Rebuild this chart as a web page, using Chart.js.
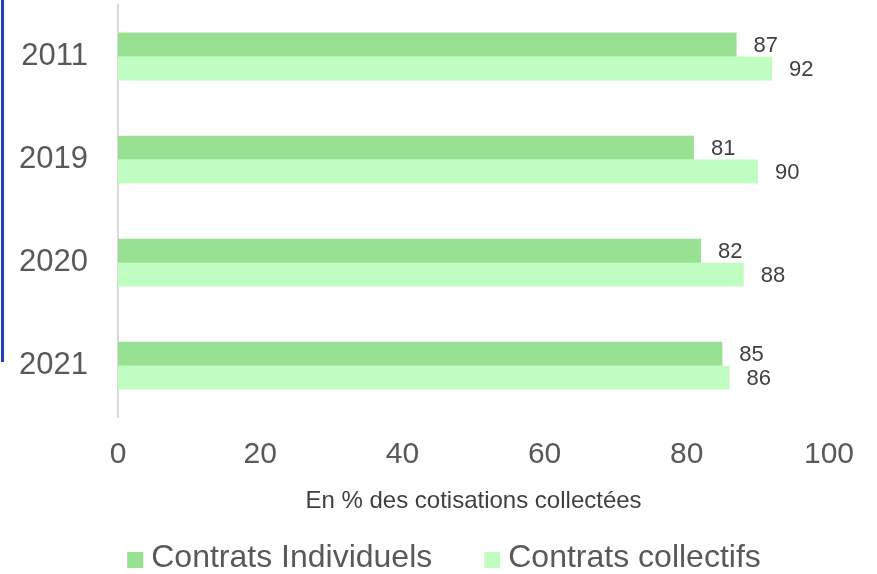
<!DOCTYPE html>
<html><head><meta charset="utf-8">
<script src="https://cdn.jsdelivr.net/npm/chart.js@4/dist/chart.umd.min.js"></script>
<style>
html,body{margin:0;padding:0;background:#fff;}
#wrap{position:relative;width:877px;height:574px;}
#edge{position:absolute;left:1px;top:0;width:3px;height:362px;background:#1f3fbf;}
</style></head>
<body><div id="wrap"><div id="edge"></div><canvas id="c" width="877" height="574"></canvas></div>
<script>
const categories = ["2011", "2019", "2020", "2021"];
const individuels = [87, 81, 82, 85];
const collectifs = [92, 90, 88, 86];
const seriesNames = ["Contrats Individuels", "Contrats collectifs"];
const seriesColors = ["#98e092", "#c0fdc0"];
const xTicks = [0, 20, 40, 60, 80, 100];
const axisTitle = "En % des cotisations collectées";

const FONT = "'Liberation Sans', Arial, sans-serif";

const labelPlugin = {
  id: 'vals',
  afterDatasetsDraw(chart) {
    const ctx = chart.ctx;
    ctx.save();
    ctx.font = "22px " + FONT;
    ctx.fillStyle = "#404040";
    ctx.textAlign = "left";
    ctx.textBaseline = "middle";
    chart.data.datasets.forEach((ds, i) => {
      chart.getDatasetMeta(i).data.forEach((el, j) => {
        ctx.fillText(String(ds.data[j]), el.x + 17, el.y + 1);
      });
    });
    ctx.restore();
  }
};

const legendPlugin = {
  id: 'customLegend',
  afterDraw(chart) {
    const ctx = chart.ctx;
    ctx.save();
    ctx.font = "32px " + FONT;
    ctx.textBaseline = "middle";
    ctx.textAlign = "left";
    const box = 16, gap = 8, itemGap = 52;
    const items = chart.data.datasets.map(ds => ({ text: ds.label, color: ds.backgroundColor, w: ctx.measureText(ds.label).width }));
    let total = 0;
    items.forEach((it, i) => { total += box + gap + it.w + (i < items.length - 1 ? itemGap : 0); });
    let x = 444 - total / 2;
    const cy = 558;
    items.forEach(it => {
      ctx.fillStyle = it.color;
      ctx.fillRect(x, cy + 10 - box, box, box);
      x += box + gap;
      ctx.fillStyle = '#595959';
      ctx.fillText(it.text, x, cy);
      x += it.w + itemGap;
    });
    ctx.restore();
  }
};

new Chart(document.getElementById('c'), {
  type: 'bar',
  data: {
    labels: categories,
    datasets: [
      { label: seriesNames[0], data: individuels, backgroundColor: seriesColors[0] },
      { label: seriesNames[1], data: collectifs, backgroundColor: seriesColors[1] }
    ]
  },
  options: {
    indexAxis: 'y',
    responsive: false,
    animation: false,
    devicePixelRatio: 1,
    layout: { padding: { left: 20, right: 48, top: 5, bottom: 58 } },
    datasets: { bar: { categoryPercentage: 0.464, barPercentage: 1 } },
    scales: {
      x: {
        min: 0, max: 100,
        afterBuildTicks(axis) { axis.ticks = xTicks.map(v => ({ value: v })); },
        grid: { display: false, drawTicks: false },
        border: { display: false },
        ticks: { color: '#595959', font: { family: FONT, size: 30 }, padding: 20 },
        title: { display: true, text: axisTitle, color: '#404040', font: { family: FONT, size: 24 }, padding: { top: -6, bottom: 0 } }
      },
      y: {
        afterFit(axis) { axis.paddingTop = 0; axis.paddingBottom = 0; axis.width = 98; },
        grid: { display: false, drawTicks: false },
        border: { display: true, color: '#d9d9d9', width: 2 },
        ticks: { color: '#595959', font: { family: FONT, size: 31 }, padding: 30 }
      }
    },
    plugins: {
      legend: { display: false },
      tooltip: { enabled: false }
    }
  },
  plugins: [labelPlugin, legendPlugin]
});
</script></body></html>
